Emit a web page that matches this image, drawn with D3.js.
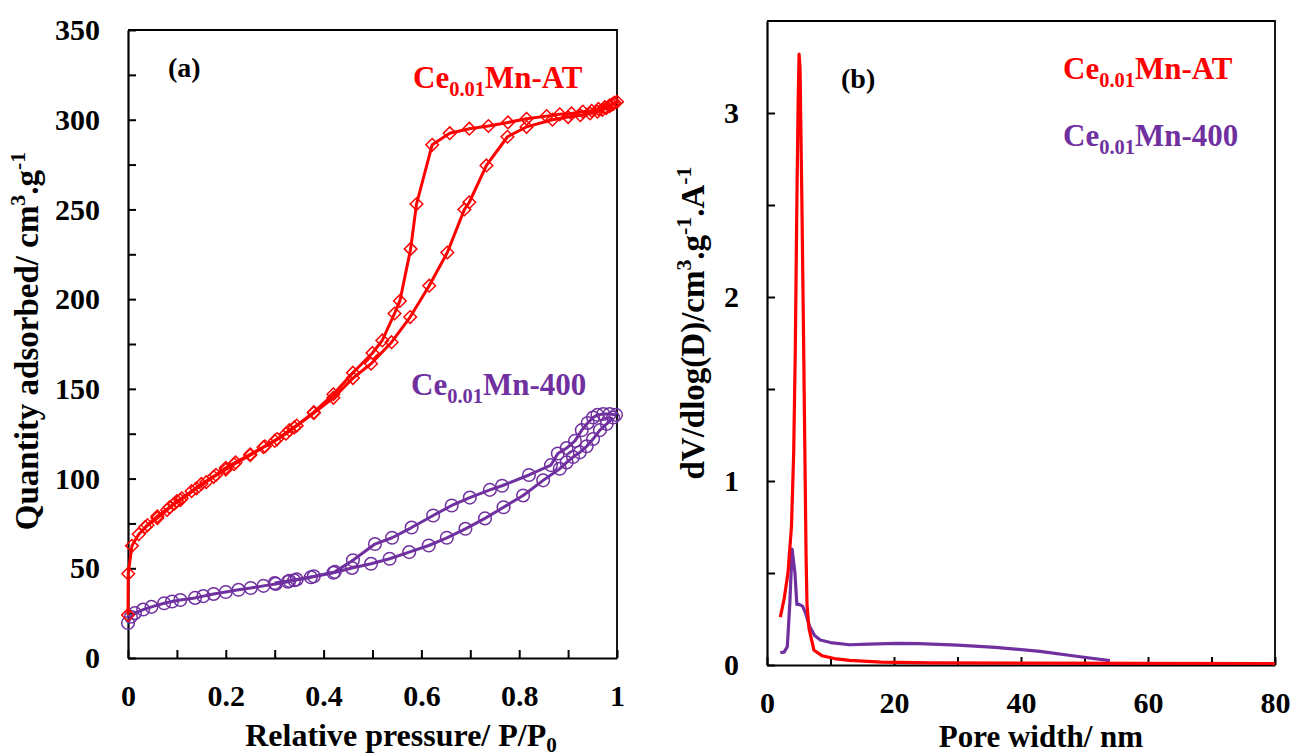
<!DOCTYPE html>
<html><head><meta charset="utf-8">
<script src="https://cdn.jsdelivr.net/npm/d3@7"></script>
<style>
body{margin:0;background:#fff}
text{font-family:"Liberation Serif","Times New Roman",serif;font-weight:bold}
</style>
</head><body>
<svg id="c" width="1295" height="756"></svg>
<script>
const RED = "#FF0000", PURPLE = "#7030A0";

// ---------- Panel (a): N2 isotherms (P/P0, cm3/g) ----------
const atAdsP = [0,0.0005,0.008,0.022,0.04,0.06,0.08,0.095,0.107,0.14,0.16,0.175,0.2,0.217,0.25,0.277,0.3,0.323,0.34,0.38,0.42,0.46,0.497,0.539,0.577,0.616,0.653,0.688,0.698,0.733,0.776,0.815,0.868,0.9,0.925,0.945,0.96,0.97,0.978,0.985,0.99,0.995];
const atAdsV = [24,47,62.5,69,74,78,82.5,86,88,94.5,98,101,105,108,113,117.5,121,125,128.5,136.5,145,156,164,176,190,207.5,226,250,254,274.5,290.5,296,300,301.5,302.5,303.5,304.5,305.5,306.5,307.5,308.5,309.5];
const atDesP = [1.0,0.993,0.985,0.975,0.962,0.948,0.93,0.907,0.883,0.856,0.815,0.777,0.737,0.698,0.658,0.622,0.59,0.578,0.556,0.545,0.52,0.5,0.46,0.42,0.38,0.345,0.33,0.305,0.28,0.25,0.22,0.2,0.18,0.15,0.13,0.11,0.1,0.085,0.06,0.035];
const atDesV = [310,309,308,307,306,305,304.5,303.5,303,302,300.5,298.5,296.5,295,292.5,286,253,228,199,192,177,170,159,147,137,129.5,127,122,118,113.5,109,106,102,97,93,89,87.5,84,79,73];

const m4AdsP = [0,0.006,0.014,0.031,0.048,0.074,0.09,0.107,0.137,0.154,0.175,0.2,0.226,0.251,0.277,0.302,0.327,0.34,0.374,0.42,0.458,0.497,0.535,0.575,0.615,0.652,0.69,0.73,0.768,0.808,0.849,0.883,0.897,0.91,0.924,0.938,0.951,0.965,0.979,0.992];
const m4AdsV = [19.5,23,25,27,28.5,30.5,31.5,32.3,33.5,34.5,35.7,36.8,38,39,40.2,41.3,42.5,43.3,45,47.5,50.2,52.5,55.3,59,62.7,67,72,77.8,84,90.6,99,105.5,109,112,114.6,118,122,127,130.5,134];
const m4DesP = [0.998,0.985,0.972,0.96,0.951,0.94,0.928,0.914,0.897,0.879,0.865,0.82,0.765,0.74,0.699,0.662,0.624,0.58,0.54,0.505,0.46,0.423,0.38,0.345,0.33,0.3];
const m4DesV = [135.5,136,136,135.5,134,131,127,121,117,114,107.5,102,96,93.7,89.4,85,79.4,72.7,67,63.5,54.5,48,45.5,43.8,43,41.8];

const aXMajor = [0,0.2,0.4,0.6,0.8,1];
const aXLabels = ["0","0.2","0.4","0.6","0.8","1"];
const aXMinor = [0.1,0.3,0.5,0.7,0.9];
const aYMajor = [0,50,100,150,200,250,300,350];
const aYLabels = ["0","50","100","150","200","250","300","350"];
const aYMinor = [25,75,125,175,225,275,325];

// ---------- Panel (b): pore size distribution ----------
const psdAtW = [2.1,2.7,3.3,3.85,4.2,4.45,4.7,4.9,5.05,5.2,5.5,5.75,5.95,6.15,6.3,6.6,7.4,8.7,10.6,13,18,26,40,60,80];
const psdAtV = [0.26,0.36,0.5,0.75,1.15,1.7,2.5,3.05,3.32,3.25,2.5,1.8,1.2,0.6,0.33,0.2,0.08,0.05,0.035,0.025,0.016,0.012,0.01,0.009,0.008];
const psd4W = [2.1,2.7,3.2,3.6,3.95,4.4,4.7,5.0,5.6,6.1,6.7,7.5,8.4,10,13,16,20.5,24,30,36,43,49,54];
const psd4V = [0.067,0.07,0.1,0.34,0.63,0.5,0.33,0.33,0.32,0.28,0.21,0.16,0.136,0.122,0.11,0.113,0.118,0.116,0.108,0.096,0.074,0.046,0.024];

const bXMajor = [0,20,40,60,80];
const bXLabels = ["0","20","40","60","80"];
const bXMinor = [10,30,50,70];
const bYMajor = [0,1,2,3];
const bYLabels = ["0","1","2","3"];
const bYMinor = [0.5,1.5,2.5];

const svg = d3.select("#c");
const zip = (a, b) => a.map((v, i) => [v, b[i]]);

function drawAxes(x, y, xMaj, xLab, xMin, yMaj, yLab, yMin) {
  const fx = d => { const i = xMaj.indexOf(d); return i >= 0 ? xLab[i] : ""; };
  const fy = d => { const i = yMaj.indexOf(d); return i >= 0 ? yLab[i] : ""; };
  const y0 = y.range()[0], x0 = x.range()[0];
  const gx = svg.append("g").attr("transform", `translate(0,${y0})`)
    .call(d3.axisBottom(x).tickValues(xMaj.concat(xMin)).tickFormat(fx)
      .tickSize(-8).tickSizeOuter(0).tickPadding(27));
  const gy = svg.append("g").attr("transform", `translate(${x0},0)`)
    .call(d3.axisLeft(y).tickValues(yMaj.concat(yMin)).tickFormat(fy)
      .tickSize(-8).tickSizeOuter(0).tickPadding(28));
  [gx, gy].forEach(g => {
    g.select(".domain").attr("stroke", "#000").attr("stroke-width", 2.2);
    g.selectAll(".tick line").attr("stroke", "#000").attr("stroke-width", 2);
    g.selectAll("text").attr("font-size", 30).attr("fill", "#000")
      .style("font-family", '"Liberation Serif",serif').style("font-weight", "bold");
  });
  // frame top & right
  const [xa, xb] = x.range(), [ya, yb] = y.range();
  svg.append("path").attr("d", `M${xa},${yb}H${xb}V${ya}`)
    .attr("fill", "none").attr("stroke", "#000").attr("stroke-width", 1.8);
}

// ---------- Panel (a) ----------
const xa = d3.scaleLinear().domain([0, 1]).range([128, 617]);
const ya = d3.scaleLinear().domain([0, 350]).range([658, 30]);
drawAxes(xa, ya, aXMajor, aXLabels, aXMinor, aYMajor, aYLabels, aYMinor);

const lineA = d3.line().x(d => xa(d[0])).y(d => ya(d[1]));
const diamond = r => `M0,${-r}L${r},0L0,${r}L${-r},0Z`;

function isoSeries(P, V, color, marker) {
  const pts = zip(P, V);
  svg.append("path").attr("d", lineA(pts)).attr("fill", "none")
    .attr("stroke", color).attr("stroke-width", 3).attr("stroke-linejoin", "round");
  const g = svg.append("g");
  if (marker === "diamond") {
    g.selectAll("path").data(pts).join("path")
      .attr("d", diamond(6.3))
      .attr("transform", d => `translate(${xa(d[0])},${ya(d[1])})`)
      .attr("fill", "none").attr("stroke", color).attr("stroke-width", 1.5);
  } else {
    g.selectAll("circle").data(pts).join("circle")
      .attr("cx", d => xa(d[0])).attr("cy", d => ya(d[1])).attr("r", 6.3)
      .attr("fill", "none").attr("stroke", color).attr("stroke-width", 1.5);
  }
}
isoSeries(m4AdsP, m4AdsV, PURPLE, "circle");
isoSeries(m4DesP, m4DesV, PURPLE, "circle");
isoSeries(atAdsP, atAdsV, RED, "diamond");
isoSeries(atDesP, atDesV, RED, "diamond");

// ---------- Panel (b) ----------
const xb = d3.scaleLinear().domain([0, 80]).range([767, 1275]);
const yb = d3.scaleLinear().domain([0, 3.5]).range([665, 21]);
drawAxes(xb, yb, bXMajor, bXLabels, bXMinor, bYMajor, bYLabels, bYMinor);
const lineB = d3.line().x(d => xb(d[0])).y(d => yb(d[1]));
svg.append("path").attr("d", lineB(zip(psd4W, psd4V))).attr("fill", "none")
  .attr("stroke", PURPLE).attr("stroke-width", 3.2).attr("stroke-linejoin", "round");
svg.append("path").attr("d", lineB(zip(psdAtW, psdAtV))).attr("fill", "none")
  .attr("stroke", RED).attr("stroke-width", 3.2).attr("stroke-linejoin", "round");

// ---------- Texts ----------
function label(x, y, color, size, parts, anchor, rotate, subK) {
  const t = svg.append("text").attr("fill", color).attr("font-size", size)
    .attr("text-anchor", anchor || "start");
  if (rotate) t.attr("transform", `translate(${x},${y}) rotate(-90)`);
  else t.attr("x", x).attr("y", y);
  let shift = 0;
  parts.forEach(p => {
    const s = t.append("tspan").text(p.t);
    const target = p.sub ? size * (subK || 0.27) : p.sup ? -size * 0.38 : 0;
    if (target !== shift) { s.attr("dy", target - shift); shift = target; }
    if (p.sub || p.sup) s.attr("font-size", size * 0.66);
  });
  return t;
}
const ceName = (suffix) => [{t: "Ce"}, {t: "0.01", sub: true}, {t: suffix}];

label(168, 77, "#000", 28, [{t: "(a)"}]);
label(413, 88, RED, 31, ceName("Mn-AT"));
label(411, 395, PURPLE, 31, ceName("Mn-400"));
label(841, 88, "#000", 28, [{t: "(b)"}]);
label(1063, 79, RED, 31, ceName("Mn-AT"));
label(1063, 146, PURPLE, 31, ceName("Mn-400"));

label(401, 746, "#000", 32, [{t: "Relative pressure/ P/P"}, {t: "0", sub: true}], "middle", false, 0.2);
label(1041, 747, "#000", 31, [{t: "Pore width/ nm"}], "middle");
label(38, 341, "#000", 33, [{t: "Quantity adsorbed/ cm"}, {t: "3", sup: true}, {t: ".g"}, {t: "-1", sup: true}], "middle", true);
label(704, 323, "#000", 33, [{t: "dV/dlog(D)/cm"}, {t: "3", sup: true}, {t: ".g"}, {t: "-1", sup: true}, {t: ".A"}, {t: "-1", sup: true}], "middle", true);
</script>
</body></html>
